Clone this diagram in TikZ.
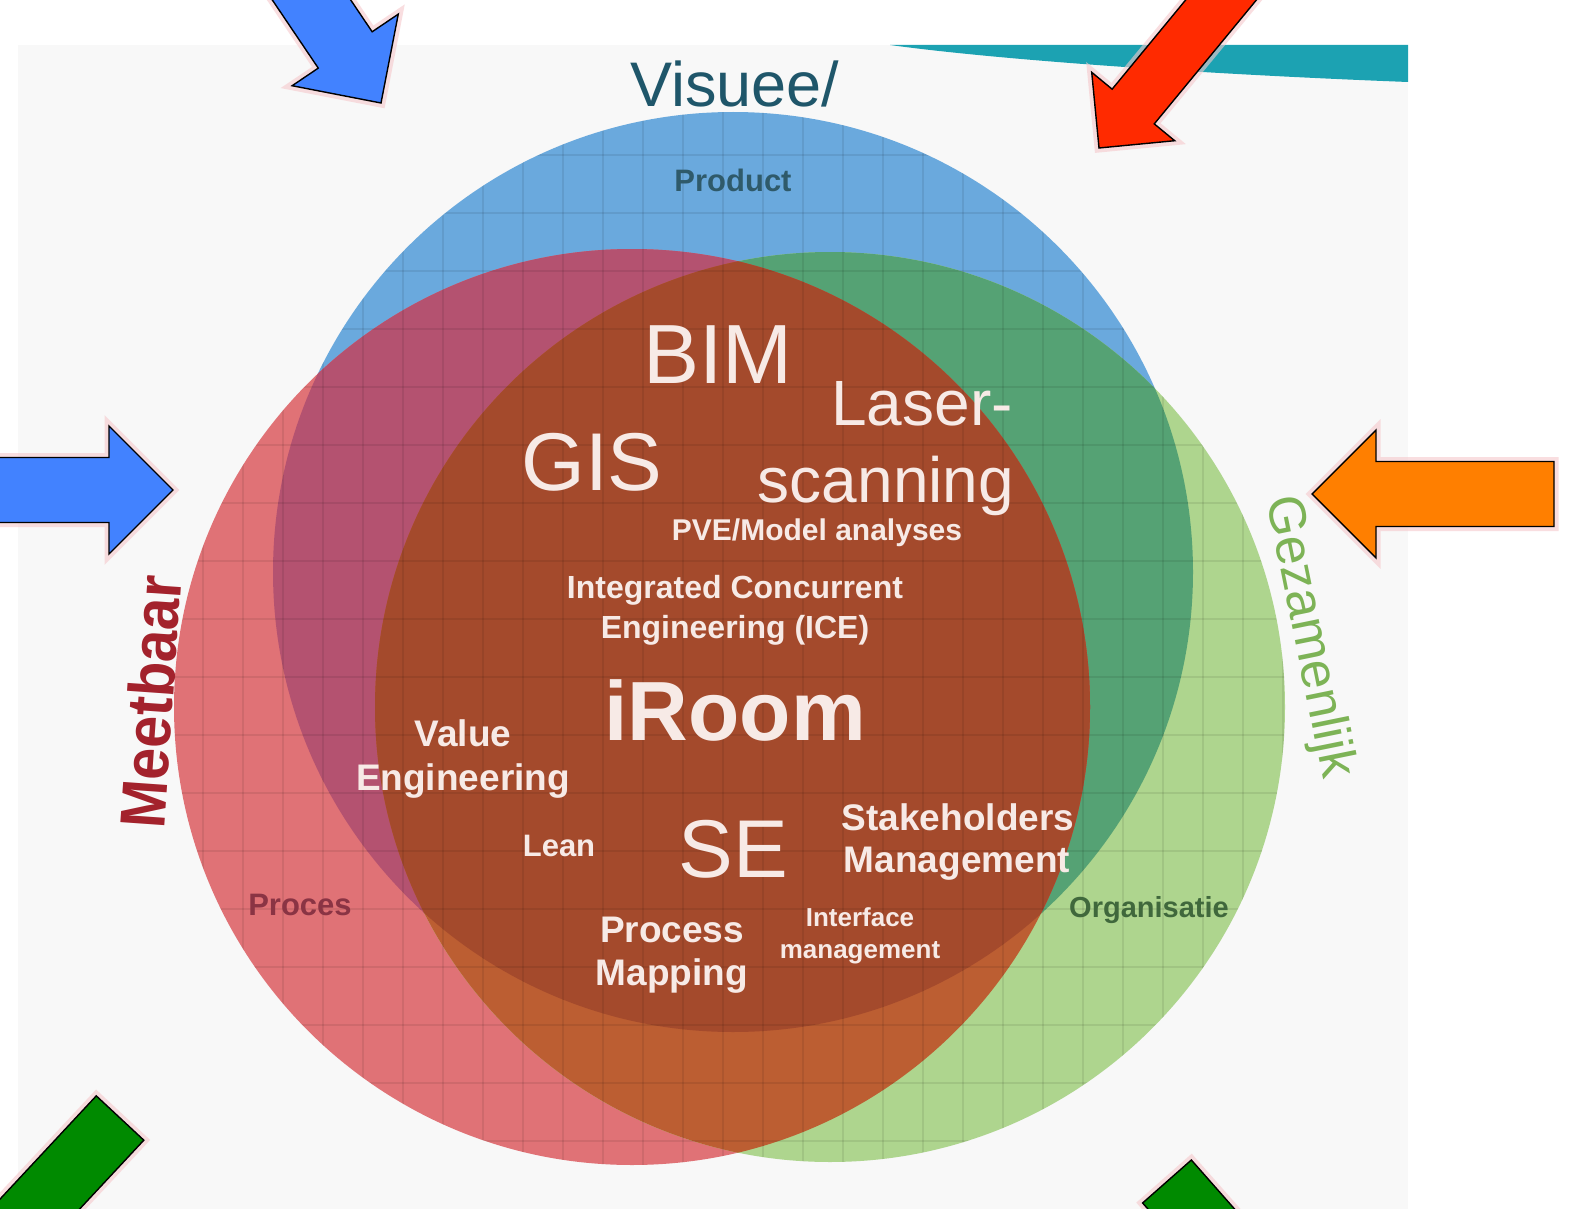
\documentclass[tikz,border=0pt]{standalone}
\usepackage{fontspec}
\setmainfont{Liberation Sans}

\definecolor{panel}{HTML}{F8F8F8}
\definecolor{swoosh}{HTML}{1CA2B2}
\definecolor{blueonly}{HTML}{6AA9DD}
\definecolor{redonly}{HTML}{E07276}
\definecolor{greenonly}{HTML}{AED58E}
\definecolor{redblue}{HTML}{B45270}
\definecolor{greenblue}{HTML}{55A274}
\definecolor{redgreen}{HTML}{BC5E32}
\definecolor{allthree}{HTML}{A44A2C}
\definecolor{wordtxt}{HTML}{F7EAE6}
\definecolor{glow}{HTML}{F6C9CC}
\definecolor{arrblue}{HTML}{4282FF}
\definecolor{arrred}{HTML}{FF2A00}
\definecolor{arrorange}{HTML}{FF7F00}
\definecolor{arrgreen}{HTML}{008A00}
\definecolor{visueetxt}{HTML}{1F566A}
\definecolor{producttxt}{HTML}{2F5A6A}
\definecolor{meetbaartxt}{HTML}{A3222C}
\definecolor{gezamenlijktxt}{HTML}{7DB356}
\definecolor{procestxt}{HTML}{8A3444}
\definecolor{organisatietxt}{HTML}{40683C}

\tikzset{
  arrowlen/.store in=\arrowlen, arrowlen=242,
  blockarrow/.pic={
    \draw[pic actions, line width=1.4pt, line join=miter,
      preaction={draw=glow, line width=9pt, opacity=0.6}]
      (0,0) -- (-64,64) -- (-64,32.5) -- (-\arrowlen,32.5)
      -- (-\arrowlen,-32.5) -- (-64,-32.5) -- (-64,-64) -- cycle;
  },
  word/.style={anchor=base, inner sep=0pt, text=wordtxt},
  bigword/.style={word, font=\fontsize{#1}{#1}\selectfont},
  boldword/.style={word, font=\bfseries\fontsize{#1}{#1}\selectfont},
  gridline/.style={black, opacity=0.08, line width=1.1pt},
}

\newcommand{\circlegrid}{%
  \foreach \x in {3,43,...,1563} \draw[gridline] (\x,0) -- (\x,1209);
  \foreach \y in {39,97,...,1209} \draw[gridline] (0,\y) -- (1574,\y);
}

\begin{document}
\begin{tikzpicture}[x=1pt, y=-1pt]
  \useasboundingbox (0,0) rectangle (1574,1209);
  \clip (0,0) rectangle (1574,1209);
  \fill[white] (0,0) rectangle (1574,1209);
  \fill[panel] (18,45) rectangle (1408,1209);
  \fill[swoosh] (890,45) -- (1408,45) -- (1408,82)
    .. controls (1200,74) and (1000,60) .. (890,45) -- cycle;

  % the three circles
  \coordinate (bc) at (733,572);
  \coordinate (rc) at (632,707);
  \coordinate (gc) at (830,707);
  \fill[blueonly] (bc) circle[radius=460];
  \fill[redonly] (rc) circle[radius=458];
  \fill[greenonly] (gc) circle[radius=455];
  \begin{scope}
    \clip (gc) circle[radius=455];
    \fill[greenblue] (bc) circle[radius=460];
  \end{scope}
  \begin{scope}
    \clip (rc) circle[radius=458];
    \fill[redblue] (bc) circle[radius=460];
    \fill[redgreen] (gc) circle[radius=455];
    \clip (gc) circle[radius=455];
    \fill[allthree] (bc) circle[radius=460];
  \end{scope}

  % grid over the circles
  \begin{scope}
    \clip (bc) circle[radius=460];
    \circlegrid
  \end{scope}
  \begin{scope}[even odd rule]
    \clip (rc) circle[radius=458];
    \clip (0,0) rectangle (1574,1209) (bc) circle[radius=460];
    \circlegrid
  \end{scope}
  \begin{scope}[even odd rule]
    \clip (gc) circle[radius=455];
    \clip (0,0) rectangle (1574,1209) (bc) circle[radius=460];
    \clip (0,0) rectangle (1574,1209) (rc) circle[radius=458];
    \circlegrid
  \end{scope}

  % outer labels
  \node[word, text=visueetxt, font=\fontsize{63}{63}\selectfont] (visuee) at (735,107) {Visuee/};
  \node[word, text=producttxt, font=\bfseries\fontsize{31}{31}\selectfont] (product) at (733,192) {Product};
  \node[inner sep=0pt, text=meetbaartxt, font=\bfseries\fontsize{64}{64}\selectfont,
    rotate=86, xscale=0.9] (meetbaar) at (150,702) {Meetbaar};
  \node[inner sep=0pt, text=gezamenlijktxt, font=\fontsize{52}{52}\selectfont,
    rotate=-78.5] (gezamenlijk) at (1308,637) {Gezamenlijk};
  \node[word, text=procestxt, font=\bfseries\fontsize{31}{31}\selectfont] (proces) at (300,915) {Proces};
  \node[word, text=organisatietxt, font=\bfseries\fontsize{29}{29}\selectfont] (organisatie) at (1149,917) {Organisatie};

  % words in the middle
  \node[bigword=84] (bim) at (718,383) {BIM};
  \node[bigword=82] (gis) at (592,490) {GIS};
  \node[bigword=64] (laser) at (922,425) {Laser-};
  \node[bigword=64] (scanning) at (886,502) {scanning};
  \node[boldword=30] (pve) at (817,540) {PVE/Model analyses};
  \node[boldword=32] (ice1) at (735,598) {Integrated Concurrent};
  \node[boldword=32] (ice2) at (735,638) {Engineering (ICE)};
  \node[boldword=84] (iroom) at (735,740) {iRoom};
  \node[boldword=37] (ve1) at (463,746) {Value};
  \node[boldword=37] (ve2) at (463,790) {Engineering};
  \node[boldword=31] (lean) at (559,856) {Lean};
  \node[bigword=82] (se) at (733,877) {SE};
  \node[boldword=37] (sh1) at (958,830) {Stakeholders};
  \node[boldword=37] (sh2) at (957,872) {Management};
  \node[boldword=37] (pm1) at (672,942) {Process};
  \node[boldword=37] (pm2) at (672,985) {Mapping};
  \node[boldword=26] (im1) at (860,926) {Interface};
  \node[boldword=26] (im2) at (860,958) {management};

  % arrows round the diagram
  \pic[fill=arrblue, draw=black, rotate=-56] at (381,103) {blockarrow};
  \pic[fill=arrred, draw=black, rotate=-129.5, scale=0.84, arrowlen=300] at (1099,148) {blockarrow};
  \pic[fill=arrblue, draw=black] at (173,490) {blockarrow};
  \pic[fill=arrorange, draw=black, rotate=180] at (1312,494) {blockarrow};
  \pic[fill=arrgreen, draw=black, rotate=-133] at (-45,1295) {blockarrow};
  \pic[fill=arrgreen, draw=black, rotate=-48.6] at (1327,1363) {blockarrow};
\end{tikzpicture}
\end{document}
